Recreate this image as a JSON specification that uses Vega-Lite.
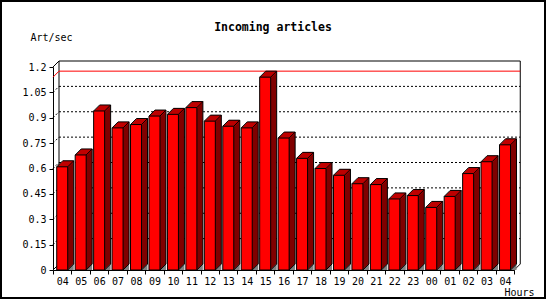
{
  "$schema": "https://vega.github.io/schema/vega-lite/v6.json",
  "width": 546,
  "height": 299,
  "autosize": "none",
  "padding": 0,
  "background": "white",
  "config": {"view": {"stroke": "black", "strokeWidth": 4}, "font": "DejaVu Sans Mono"},
  "title": {"text": "Incoming articles", "font": "DejaVu Sans Mono", "fontSize": 11.5, "fontWeight": "bold", "color": "black", "anchor": "middle", "frame": "group", "offset": -42, "baseline": "alphabetic"},
  "data": {"values": [
    {"h": "04", "v": 0.61}, {"h": "05", "v": 0.68}, {"h": "06", "v": 0.94}, {"h": "07", "v": 0.84},
    {"h": "08", "v": 0.86}, {"h": "09", "v": 0.91}, {"h": "10", "v": 0.92}, {"h": "11", "v": 0.96},
    {"h": "12", "v": 0.88}, {"h": "13", "v": 0.85}, {"h": "14", "v": 0.84}, {"h": "15", "v": 1.14},
    {"h": "16", "v": 0.78}, {"h": "17", "v": 0.66}, {"h": "18", "v": 0.60}, {"h": "19", "v": 0.56},
    {"h": "20", "v": 0.51}, {"h": "21", "v": 0.505}, {"h": "22", "v": 0.42}, {"h": "23", "v": 0.44},
    {"h": "00", "v": 0.37}, {"h": "01", "v": 0.435}, {"h": "02", "v": 0.57}, {"h": "03", "v": 0.64},
    {"h": "04b", "v": 0.74}
  ]},
  "encoding": {
    "x": {"field": "h", "type": "nominal", "sort": null, "bandPosition": 0.5,
      "scale": {"domain": ["04","05","06","07","08","09","10","11","12","13","14","15","16","17","18","19","20","21","22","23","00","01","02","03","04b"], "range": [53, 514.25], "paddingInner": 0, "paddingOuter": 0},
      "axis": {"orient": "bottom", "offset": -29, "title": "Hours", "titleX": 519, "titleY": 22, "titleAlign": "center", "titleBaseline": "middle", "titleFont": "DejaVu Sans Mono", "titleFontSize": 10, "titleFontWeight": "normal", "titleColor": "black", "labelFont": "DejaVu Sans Mono", "labelFontSize": 10, "labelColor": "black", "labelAngle": 0, "labelPadding": 2, "labelExpr": "substring(datum.label,0,2)", "tickBand": "extent", "tickSize": 4, "tickColor": "black", "domainColor": "black", "grid": false, "labelOverlap": false}
    },
    "y": {"field": "v", "type": "quantitative",
      "scale": {"domain": [0, 1.2], "range": [270, 67], "nice": false},
      "axis": {"orient": "left", "offset": -53, "values": [0, 0.15, 0.3, 0.45, 0.6, 0.75, 0.9, 1.05, 1.2], "labelExpr": "'' + datum.value", "title": "Art/sec", "titleAngle": 0, "titleX": -23, "titleY": 37, "titleAlign": "left", "titleBaseline": "middle", "titleFont": "DejaVu Sans Mono", "titleFontSize": 10, "titleFontWeight": "normal", "titleColor": "black", "labelFont": "DejaVu Sans Mono", "labelFontSize": 10, "labelColor": "black", "labelPadding": 3, "tickSize": 4, "tickColor": "black", "domainColor": "black", "grid": false}
    }
  },
  "layer": [
    {"transform": [{"filter": {"field": "h", "equal": "04"}}], "mark": {"type": "rule", "color": "black", "strokeDash": [2, 2], "xOffset": 6, "x2Offset": 6, "yOffset": -6}, "encoding": {"x": {"datum": "04", "type": "nominal", "bandPosition": 0}, "x2": {"datum": "04b", "bandPosition": 1}, "y": {"datum": 0.15, "type": "quantitative"}}},
    {"transform": [{"filter": {"field": "h", "equal": "04"}}], "mark": {"type": "rule", "color": "black", "strokeDash": [2, 2], "xOffset": 6, "x2Offset": 6, "yOffset": -6}, "encoding": {"x": {"datum": "04", "type": "nominal", "bandPosition": 0}, "x2": {"datum": "04b", "bandPosition": 1}, "y": {"datum": 0.3, "type": "quantitative"}}},
    {"transform": [{"filter": {"field": "h", "equal": "04"}}], "mark": {"type": "rule", "color": "black", "strokeDash": [2, 2], "xOffset": 6, "x2Offset": 6, "yOffset": -6}, "encoding": {"x": {"datum": "04", "type": "nominal", "bandPosition": 0}, "x2": {"datum": "04b", "bandPosition": 1}, "y": {"datum": 0.45, "type": "quantitative"}}},
    {"transform": [{"filter": {"field": "h", "equal": "04"}}], "mark": {"type": "rule", "color": "black", "strokeDash": [2, 2], "xOffset": 6, "x2Offset": 6, "yOffset": -6}, "encoding": {"x": {"datum": "04", "type": "nominal", "bandPosition": 0}, "x2": {"datum": "04b", "bandPosition": 1}, "y": {"datum": 0.6, "type": "quantitative"}}},
    {"transform": [{"filter": {"field": "h", "equal": "04"}}], "mark": {"type": "rule", "color": "black", "strokeDash": [2, 2], "xOffset": 6, "x2Offset": 6, "yOffset": -6}, "encoding": {"x": {"datum": "04", "type": "nominal", "bandPosition": 0}, "x2": {"datum": "04b", "bandPosition": 1}, "y": {"datum": 0.75, "type": "quantitative"}}},
    {"transform": [{"filter": {"field": "h", "equal": "04"}}], "mark": {"type": "rule", "color": "black", "strokeDash": [2, 2], "xOffset": 6, "x2Offset": 6, "yOffset": -6}, "encoding": {"x": {"datum": "04", "type": "nominal", "bandPosition": 0}, "x2": {"datum": "04b", "bandPosition": 1}, "y": {"datum": 0.9, "type": "quantitative"}}},
    {"transform": [{"filter": {"field": "h", "equal": "04"}}], "mark": {"type": "rule", "color": "black", "strokeDash": [2, 2], "xOffset": 6, "x2Offset": 6, "yOffset": -6}, "encoding": {"x": {"datum": "04", "type": "nominal", "bandPosition": 0}, "x2": {"datum": "04b", "bandPosition": 1}, "y": {"datum": 1.05, "type": "quantitative"}}},
    {"transform": [{"filter": {"field": "h", "equal": "04"}}], "mark": {"type": "rule", "color": "black", "strokeDash": [2, 2], "x2Offset": 6, "y2Offset": -6}, "encoding": {"x": {"datum": "04", "type": "nominal", "bandPosition": 0}, "x2": {"datum": "04", "bandPosition": 0}, "y": {"datum": 0.15, "type": "quantitative"}, "y2": {"datum": 0.15}}},
    {"transform": [{"filter": {"field": "h", "equal": "04"}}], "mark": {"type": "rule", "color": "black", "strokeDash": [2, 2], "x2Offset": 6, "y2Offset": -6}, "encoding": {"x": {"datum": "04", "type": "nominal", "bandPosition": 0}, "x2": {"datum": "04", "bandPosition": 0}, "y": {"datum": 0.3, "type": "quantitative"}, "y2": {"datum": 0.3}}},
    {"transform": [{"filter": {"field": "h", "equal": "04"}}], "mark": {"type": "rule", "color": "black", "strokeDash": [2, 2], "x2Offset": 6, "y2Offset": -6}, "encoding": {"x": {"datum": "04", "type": "nominal", "bandPosition": 0}, "x2": {"datum": "04", "bandPosition": 0}, "y": {"datum": 0.45, "type": "quantitative"}, "y2": {"datum": 0.45}}},
    {"transform": [{"filter": {"field": "h", "equal": "04"}}], "mark": {"type": "rule", "color": "black", "strokeDash": [2, 2], "x2Offset": 6, "y2Offset": -6}, "encoding": {"x": {"datum": "04", "type": "nominal", "bandPosition": 0}, "x2": {"datum": "04", "bandPosition": 0}, "y": {"datum": 0.6, "type": "quantitative"}, "y2": {"datum": 0.6}}},
    {"transform": [{"filter": {"field": "h", "equal": "04"}}], "mark": {"type": "rule", "color": "black", "strokeDash": [2, 2], "x2Offset": 6, "y2Offset": -6}, "encoding": {"x": {"datum": "04", "type": "nominal", "bandPosition": 0}, "x2": {"datum": "04", "bandPosition": 0}, "y": {"datum": 0.75, "type": "quantitative"}, "y2": {"datum": 0.75}}},
    {"transform": [{"filter": {"field": "h", "equal": "04"}}], "mark": {"type": "rule", "color": "black", "strokeDash": [2, 2], "x2Offset": 6, "y2Offset": -6}, "encoding": {"x": {"datum": "04", "type": "nominal", "bandPosition": 0}, "x2": {"datum": "04", "bandPosition": 0}, "y": {"datum": 0.9, "type": "quantitative"}, "y2": {"datum": 0.9}}},
    {"transform": [{"filter": {"field": "h", "equal": "04"}}], "mark": {"type": "rule", "color": "black", "strokeDash": [2, 2], "x2Offset": 6, "y2Offset": -6}, "encoding": {"x": {"datum": "04", "type": "nominal", "bandPosition": 0}, "x2": {"datum": "04", "bandPosition": 0}, "y": {"datum": 1.05, "type": "quantitative"}, "y2": {"datum": 1.05}}},
    {"transform": [{"filter": {"field": "h", "equal": "04"}}], "mark": {"type": "rule", "color": "black", "xOffset": 6, "x2Offset": 6, "yOffset": -6}, "encoding": {"x": {"datum": "04", "type": "nominal", "bandPosition": 0}, "x2": {"datum": "04b", "bandPosition": 1}, "y": {"datum": 1.2, "type": "quantitative"}}},
    {"transform": [{"filter": {"field": "h", "equal": "04"}}], "mark": {"type": "rule", "color": "black", "xOffset": 6, "yOffset": -6, "y2Offset": -6}, "encoding": {"x": {"datum": "04", "type": "nominal", "bandPosition": 0}, "y": {"datum": 0, "type": "quantitative"}, "y2": {"datum": 1.2}}},
    {"transform": [{"filter": {"field": "h", "equal": "04"}}], "mark": {"type": "rule", "color": "black", "xOffset": 6, "yOffset": -6, "y2Offset": -6}, "encoding": {"x": {"datum": "04b", "type": "nominal", "bandPosition": 1}, "y": {"datum": 0, "type": "quantitative"}, "y2": {"datum": 1.2}}},
    {"transform": [{"filter": {"field": "h", "equal": "04"}}], "mark": {"type": "rule", "color": "black", "x2Offset": 6, "y2Offset": -6}, "encoding": {"x": {"datum": "04", "type": "nominal", "bandPosition": 0}, "x2": {"datum": "04", "bandPosition": 0}, "y": {"datum": 1.2, "type": "quantitative"}, "y2": {"datum": 1.2}}},
    {"transform": [{"filter": {"field": "h", "equal": "04"}}], "mark": {"type": "rule", "color": "black", "x2Offset": 6, "y2Offset": -6}, "encoding": {"x": {"datum": "04", "type": "nominal", "bandPosition": 0}, "x2": {"datum": "04", "bandPosition": 0}, "y": {"datum": 0, "type": "quantitative"}, "y2": {"datum": 0}}},
    {"transform": [{"filter": {"field": "h", "equal": "04"}}], "mark": {"type": "rule", "color": "black", "x2Offset": 6, "y2Offset": -6}, "encoding": {"x": {"datum": "04b", "type": "nominal", "bandPosition": 1}, "x2": {"datum": "04b", "bandPosition": 1}, "y": {"datum": 0, "type": "quantitative"}, "y2": {"datum": 0}}},
    {
      "transform": [{"aggregate": [{"op": "max", "field": "v", "as": "vmax"}]}],
      "layer": [
        {"mark": {"type": "rule", "color": "#ff0000", "xOffset": 6, "x2Offset": 6, "yOffset": -6}, "encoding": {"x": {"datum": "04", "type": "nominal", "bandPosition": 0}, "x2": {"datum": "04b", "bandPosition": 1}, "y": {"field": "vmax", "type": "quantitative", "title": "Art/sec"}}},
        {"mark": {"type": "rule", "color": "#ff0000", "x2Offset": 6, "y2Offset": -6}, "encoding": {"x": {"datum": "04", "type": "nominal", "bandPosition": 0}, "x2": {"datum": "04", "bandPosition": 0}, "y": {"field": "vmax", "type": "quantitative", "title": "Art/sec"}, "y2": {"field": "vmax"}}}
      ]
    },
    {"mark": {"type": "rect", "fill": "#808080", "xOffset": 5.5, "x2Offset": 11.5, "y2Offset": -6}, "encoding": {"x2": {"field": "h", "bandPosition": 0.5}, "y": {"datum": 0, "type": "quantitative"}, "y2": {"datum": 0}}},
    {"mark": {"type": "rect", "fill": "#800000", "xOffset": -4.5, "x2Offset": 6.5, "yOffset": -1, "y2Offset": -1}, "encoding": {"x2": {"field": "h", "bandPosition": 0.5}, "y2": {"datum": 0}}},
    {"mark": {"type": "rect", "fill": "#800000", "xOffset": -3.5, "x2Offset": 7.5, "yOffset": -2, "y2Offset": -2}, "encoding": {"x2": {"field": "h", "bandPosition": 0.5}, "y2": {"datum": 0}}},
    {"mark": {"type": "rect", "fill": "#800000", "xOffset": -2.5, "x2Offset": 8.5, "yOffset": -3, "y2Offset": -3}, "encoding": {"x2": {"field": "h", "bandPosition": 0.5}, "y2": {"datum": 0}}},
    {"mark": {"type": "rect", "fill": "#800000", "xOffset": -1.5, "x2Offset": 9.5, "yOffset": -4, "y2Offset": -4}, "encoding": {"x2": {"field": "h", "bandPosition": 0.5}, "y2": {"datum": 0}}},
    {"mark": {"type": "rect", "fill": "#800000", "xOffset": -0.5, "x2Offset": 10.5, "yOffset": -5, "y2Offset": -5}, "encoding": {"x2": {"field": "h", "bandPosition": 0.5}, "y2": {"datum": 0}}},
    {"mark": {"type": "rect", "fill": "#800000", "xOffset": 0.5, "x2Offset": 11.5, "yOffset": -6, "y2Offset": -6}, "encoding": {"x2": {"field": "h", "bandPosition": 0.5}, "y2": {"datum": 0}}},
    {"mark": {"type": "rect", "fill": "#c00000", "xOffset": -4.5, "x2Offset": 6.5, "yOffset": -1, "y2Offset": 0.5}, "encoding": {"x2": {"field": "h", "bandPosition": 0.5}, "y2": {"field": "v"}}},
    {"mark": {"type": "rect", "fill": "#c00000", "xOffset": -3.5, "x2Offset": 7.5, "yOffset": -2, "y2Offset": -0.5}, "encoding": {"x2": {"field": "h", "bandPosition": 0.5}, "y2": {"field": "v"}}},
    {"mark": {"type": "rect", "fill": "#c00000", "xOffset": -2.5, "x2Offset": 8.5, "yOffset": -3, "y2Offset": -1.5}, "encoding": {"x2": {"field": "h", "bandPosition": 0.5}, "y2": {"field": "v"}}},
    {"mark": {"type": "rect", "fill": "#c00000", "xOffset": -1.5, "x2Offset": 9.5, "yOffset": -4, "y2Offset": -2.5}, "encoding": {"x2": {"field": "h", "bandPosition": 0.5}, "y2": {"field": "v"}}},
    {"mark": {"type": "rect", "fill": "#c00000", "xOffset": -0.5, "x2Offset": 10.5, "yOffset": -5, "y2Offset": -3.5}, "encoding": {"x2": {"field": "h", "bandPosition": 0.5}, "y2": {"field": "v"}}},
    {"mark": {"type": "rect", "fill": "#c00000", "xOffset": 0.5, "x2Offset": 11.5, "yOffset": -6, "y2Offset": -4.5}, "encoding": {"x2": {"field": "h", "bandPosition": 0.5}, "y2": {"field": "v"}}},
    {"mark": {"type": "rect", "fill": "#ff0000", "stroke": "black", "strokeWidth": 1, "xOffset": -5.5, "x2Offset": 5.5}, "encoding": {"x2": {"field": "h", "bandPosition": 0.5}, "y2": {"datum": 0}}},
    {"mark": {"type": "rule", "color": "black", "xOffset": 0.5, "x2Offset": 11.5, "yOffset": -6}, "encoding": {"x2": {"field": "h", "bandPosition": 0.5}}},
    {"mark": {"type": "rule", "color": "black", "xOffset": -5.5, "x2Offset": 0.5, "y2Offset": -6}, "encoding": {"x2": {"field": "h", "bandPosition": 0.5}, "y2": {"field": "v"}}},
    {"mark": {"type": "rule", "color": "black", "xOffset": 5.5, "x2Offset": 11.5, "y2Offset": -6}, "encoding": {"x2": {"field": "h", "bandPosition": 0.5}, "y2": {"field": "v"}}},
    {"mark": {"type": "rule", "color": "black", "xOffset": 11.5, "yOffset": -6, "y2Offset": -6}, "encoding": {"y2": {"datum": 0}}},
    {"mark": {"type": "rule", "color": "black", "xOffset": 5.5, "x2Offset": 11.5, "y2Offset": -6}, "encoding": {"x2": {"field": "h", "bandPosition": 0.5}, "y": {"datum": 0, "type": "quantitative"}, "y2": {"datum": 0}}}
  ]
}
